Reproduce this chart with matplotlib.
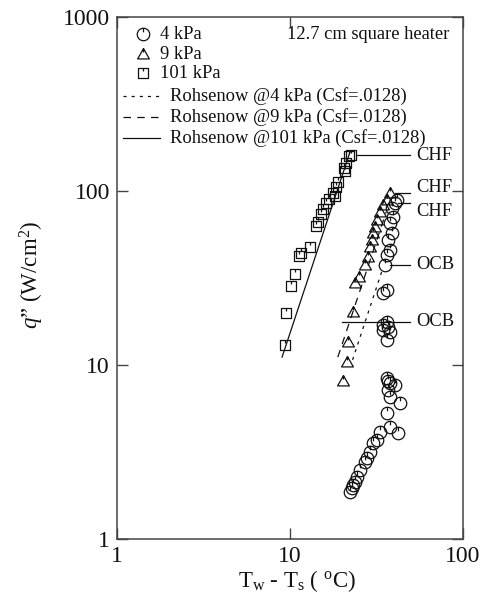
import numpy as np
import matplotlib
matplotlib.use("Agg")
import matplotlib.pyplot as plt
from matplotlib.path import Path

# ---- measured boiling data -------------------------------------------------
# 4 kPa (circles)
dt_4 = [22.2, 22.8, 23.1, 23.7, 24.4, 25.4, 27.1, 27.9, 29.0, 30.2, 31.8, 33.1,
        37.8, 42.1, 36.4, 43.2, 37.8, 36.8, 40.4, 37.8, 36.4, 36.8,
        36.4, 34.6, 37.8, 36.8, 36.4, 34.6, 36.4, 34.6, 35.4, 36.4, 37.8,
        36.8, 38.9, 37.8, 39.3, 38.9, 40.4, 41.5]
q_4 = [1.86, 1.96, 2.04, 2.13, 2.27, 2.49, 2.77, 2.92, 3.16, 3.56, 3.7, 4.12,
       4.4, 4.06, 5.29, 6.04, 6.55, 7.18, 7.66, 7.87, 8.42, 8.1,
       13.9, 15.9, 15.5, 16.5, 17.7, 17.0, 27.0, 26.0, 37.6, 42.8, 45.8,
       52.4, 57.3, 65.4, 70.8, 80.0, 85.0, 88.8]

# 9 kPa (triangles)
dt_9 = [20.2, 21.4, 21.7, 23.1, 23.7, 25.0, 27.2, 28.2, 29.0, 29.8, 30.2, 31.0,
        31.8, 33.1, 34.6, 36.4, 37.8]
q_9 = [8.1, 10.4, 13.6, 20.2, 29.6, 32.0, 37.6, 41.8, 47.6, 52.4, 57.3, 62.0,
       68.0, 75.6, 83.0, 88.8, 97.5]

# 101 kPa (squares)
dt_101 = [9.35, 9.5, 10.2, 10.7, 11.3, 11.6, 13.1, 14.1, 14.5, 15.1, 15.5, 16.2,
          17.7, 18.4, 18.9, 18.2, 20.5, 21.1, 21.9, 22.5, 20.9, 16.8]
q_101 = [13.0, 20.0, 28.4, 33.3, 42.3, 44.0, 47.7, 63.0, 66.0, 73.8, 78.8, 85.0,
         97.5, 105.0, 113.0, 93.0, 136.0, 145.0, 159.0, 161.0, 130.0, 90.0]

# Rohsenow correlation (Csf = .0128), end points of each straight log-log line
rohs_4_dt = [23.0, 34.2]
rohs_4_q = [10.7, 35.3]
rohs_9_dt = [18.9, 36.0]
rohs_9_q = [11.1, 76.0]
rohs_101_dt = [9.0, 22.2]
rohs_101_q = [11.1, 167.0]

# Callouts: (label, start dT, q of leader line, q of label)
callout_labels = ["CHF", "CHF", "CHF", "OCB", "OCB"]
callout_dt = [24.4, 40.4, 42.0, 37.8, 20.0]
callout_q = [160.0, 97.5, 85.0, 37.6, 17.7]
callout_text_q = [160.0, 105.0, 76.0, 37.6, 17.7]

# ---- styling ---------------------------------------------------------------
plt.rcParams["font.family"] = ["Liberation Serif", "DejaVu Serif"]
plt.rcParams["mathtext.fontset"] = "custom"
plt.rcParams["mathtext.rm"] = "Liberation Serif"
plt.rcParams["mathtext.it"] = "Liberation Serif:italic"

INK = "#111111"
FRAME = "#444444"
TXT = 13.3


def ticked(outline):
    """Open outline marker with a short stroke dropping from its top."""
    stroke = Path([(0.0, 1.0), (0.0, 0.35)], [Path.MOVETO, Path.LINETO])
    return Path.make_compound_path(outline, stroke)


circle_m = ticked(Path.unit_circle())
tri_m = ticked(Path([(0.0, 1.0), (-1.0, -0.75), (1.0, -0.75), (0.0, 1.0)],
                    [Path.MOVETO, Path.LINETO, Path.LINETO, Path.CLOSEPOLY]))
square_m = ticked(Path([(-1, -1), (1, -1), (1, 1), (-1, 1), (-1, -1)],
                       [Path.MOVETO, Path.LINETO, Path.LINETO, Path.LINETO,
                        Path.CLOSEPOLY]))

fig = plt.figure(figsize=(4.84, 6.01), dpi=100)
ax = fig.add_axes([0.2417, 0.1032, 0.9566 - 0.2417, 0.9717 - 0.1032])
ax.set_xscale("log")
ax.set_yscale("log")
ax.set_xlim(1, 100)
ax.set_ylim(1, 1000)

mk = dict(linestyle="none", markerfacecolor="none", markeredgecolor=INK,
          markeredgewidth=0.9)
ax.plot(dt_4, q_4, marker=circle_m, markersize=9, **mk)
ax.plot(dt_9, q_9, marker=tri_m, markersize=8.5, **mk)
ax.plot(dt_101, q_101, marker=square_m, markersize=7.5, **mk)

ax.plot(rohs_4_dt, rohs_4_q, color=INK, lw=0.9, linestyle=(0, (2.5, 4)))
ax.plot(rohs_9_dt, rohs_9_q, color=INK, lw=0.9, linestyle=(0, (6, 5)))
ax.plot(rohs_101_dt, rohs_101_q, color=INK, lw=0.9, linestyle="-")

line_end_dt = 49.4
text_dt = 54.0
for lab, x0, ql, qt in zip(callout_labels, callout_dt, callout_q, callout_text_q):
    ax.plot([x0, line_end_dt], [ql, ql], color=INK, lw=0.9)
    ax.text(text_dt, qt, lab, fontsize=TXT, color=INK, va="center", ha="left")

# axes frame and ticks
for sp in ax.spines.values():
    sp.set_color(FRAME)
    sp.set_linewidth(1.1)
ax.minorticks_off()
ax.set_xticks([1, 10, 100])
ax.set_xticklabels(["1", "10", "100"])
ax.set_yticks([1, 10, 100, 1000])
ax.set_yticklabels(["1", "10", "100", "1000"])
ax.tick_params(which="major", direction="in", length=8, width=1.0,
               color=FRAME, top=True, right=True, labelsize=17,
               labelcolor=INK, pad=5)

ax.set_xlabel(r"T$_{\mathrm{w}}$ - T$_{\mathrm{s}}$ ( $^{\mathrm{o}}$C)",
              fontsize=16.5, color=INK)
ax.xaxis.set_label_coords(0.52, -0.055)
ax.set_ylabel(r"$q$" + "\u201d (W/cm" + r"$^{2}$" + ")", fontsize=16.5,
              color=INK)
ax.yaxis.set_label_coords(-0.205, 0.505)


# key, drawn in axes fractions
def ax_frac(px, py):
    x0, x1 = 117.0, 463.0
    y0, y1 = 539.0, 17.0
    return (px - x0) / (x1 - x0), (py - y0) / (y1 - y0)


key_markers = [(circle_m, 9, "4 kPa", 34), (tri_m, 8.5, "9 kPa", 54),
               (square_m, 7.5, "101 kPa", 73)]
for m, ms, lab, py in key_markers:
    xm, ym = ax_frac(143, py)
    ax.plot([xm], [ym], transform=ax.transAxes, marker=m, markersize=ms,
            clip_on=False, **mk)
    xt, _ = ax_frac(160, py)
    ax.text(xt, ym, lab, transform=ax.transAxes, fontsize=TXT, color=INK,
            va="center", ha="left")

key_lines = [((0, (2.5, 4)), "Rohsenow @4 kPa (Csf=.0128)", 96),
             ((0, (6, 5)), "Rohsenow @9 kPa (Csf=.0128)", 117),
             ("-", "Rohsenow @101 kPa (Csf=.0128)", 138)]
for ls, lab, py in key_lines:
    xa, ya = ax_frac(123, py)
    xb, _ = ax_frac(160, py)
    ax.plot([xa, xb], [ya, ya], transform=ax.transAxes, color=INK, lw=0.9,
            linestyle=ls)
    xt, _ = ax_frac(170, py)
    ax.text(xt, ya, lab, transform=ax.transAxes, fontsize=TXT, color=INK,
            va="center", ha="left")

xh, yh = ax_frac(449, 34)
ax.text(xh, yh, "12.7 cm square heater", transform=ax.transAxes,
        fontsize=TXT, color=INK, va="center", ha="right")

fig.savefig("out.png", dpi=100)
